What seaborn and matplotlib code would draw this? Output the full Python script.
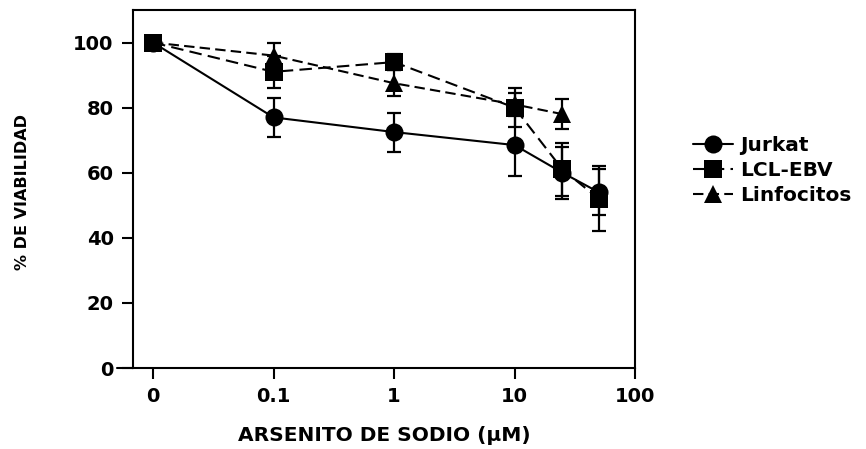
import numpy as np
import pandas as pd
import matplotlib
matplotlib.use("Agg")
import matplotlib.pyplot as plt
from matplotlib.lines import Line2D
import seaborn as sns

# ---- data ----
conc = [0, 0.1, 1, 10, 25, 50]
conc_labels = ["0", "0.1", "1", "10", "100"]
tick_conc = [0, 0.1, 1, 10, 100]
jurkat = [100, 77, 72.5, 68.5, 60, 54]
jurkat_err = [0, 6, 6, 9.5, 8, 7]
lcl = [100, 91, 94, 80, 61, 52]
lcl_err = [0, 5, 2.5, 6, 8, 10]
linf = [100, 96, 87.5, 81, 78, np.nan]
linf_err = [0, 4, 4, 3.5, 4.7, np.nan]
series_names = ["Jurkat", "LCL-EBV", "Linfocitos"]

ZERO_POS = 0.01  # where the "0" concentration is drawn on the log axis

def xpos(v):
    v = np.asarray(v, dtype=float)
    return np.where(v == 0, ZERO_POS, v)

rows = []
for name, vals, errs in zip(series_names, [jurkat, lcl, linf], [jurkat_err, lcl_err, linf_err]):
    for c, v, e in zip(conc, vals, errs):
        if not np.isnan(v):
            rows.append({"x": float(xpos(c)), "y": v, "err": e, "serie": name})
df = pd.DataFrame(rows)

sns.set_style("ticks")
plt.rcParams["font.family"] = ["DejaVu Sans"]
plt.rcParams["text.color"] = "black"
plt.rcParams["axes.labelcolor"] = "black"
plt.rcParams["xtick.color"] = "black"
plt.rcParams["ytick.color"] = "black"
plt.rcParams["axes.edgecolor"] = "black"

fig = plt.figure(figsize=(8.66, 4.49), dpi=100)
ax = fig.add_axes([0.1536, 0.1804, 0.5797, 0.7973])

markers = {"Jurkat": "o", "LCL-EBV": "s", "Linfocitos": "^"}
dashes = {"Jurkat": "", "LCL-EBV": (6, 3), "Linfocitos": (5, 2.5)}

sns.lineplot(data=df, x="x", y="y", hue="serie", style="serie",
             palette=["black"] * 3, markers=markers, dashes=dashes,
             markersize=13, linewidth=1.5, markeredgecolor="black",
             legend=False, ax=ax, zorder=3)
for line in ax.get_lines():
    line.set_markeredgewidth(0)

for name in series_names:
    sub = df[df.serie == name]
    ax.errorbar(sub.x, sub.y, yerr=sub.err, fmt="none", ecolor="black",
                elinewidth=1.6, capsize=4.7, capthick=1.6, zorder=2)

ax.set_xscale("log")
ax.set_xlim(0.00682, 100)
ax.set_ylim(0, 110)
ax.set_xticks(xpos(tick_conc))
ax.set_xticklabels(conc_labels)
ax.xaxis.set_minor_locator(matplotlib.ticker.NullLocator())
ax.set_yticks([0, 20, 40, 60, 80, 100])
ax.tick_params(axis="both", direction="out", length=8, width=1.5, pad=6,
               labelsize=14, colors="black")
for lab in ax.get_xticklabels() + ax.get_yticklabels():
    lab.set_fontweight("bold")
for sp in ax.spines.values():
    sp.set_linewidth(1.5)
    sp.set_visible(True)
    sp.set_color("black")

# bottom axis extends a bit left of the frame
ax.plot([-0.032, 0], [0, 0], transform=ax.transAxes, color="black",
        linewidth=1.5, clip_on=False)

ax.set_xlabel("ARSENITO DE SODIO (\u00b5M)", fontsize=14.5, fontweight="bold",
              labelpad=14, color="black")
ax.set_ylabel("")
fig.text(0.026, 0.573, "% DE VIABILIDAD", rotation=90, ha="center", va="center",
         fontsize=11.5, fontweight="heavy", color="black",
         family=["Liberation Sans Narrow", "DejaVu Sans"])

handles = [Line2D([], [], color="black", linestyle=(0, dashes[n]) if dashes[n] else "-",
                  linewidth=1.5, marker=markers[n], markersize=13,
                  markeredgewidth=0) for n in series_names]
fig.legend(handles, series_names, loc="upper left", bbox_to_anchor=(0.80, 0.697),
           frameon=False, prop={"weight": "bold", "size": 14.5},
           handlelength=2.0, labelspacing=0.3, handletextpad=0.35,
           borderaxespad=0, borderpad=0)

fig.savefig("out.png", dpi=100)
